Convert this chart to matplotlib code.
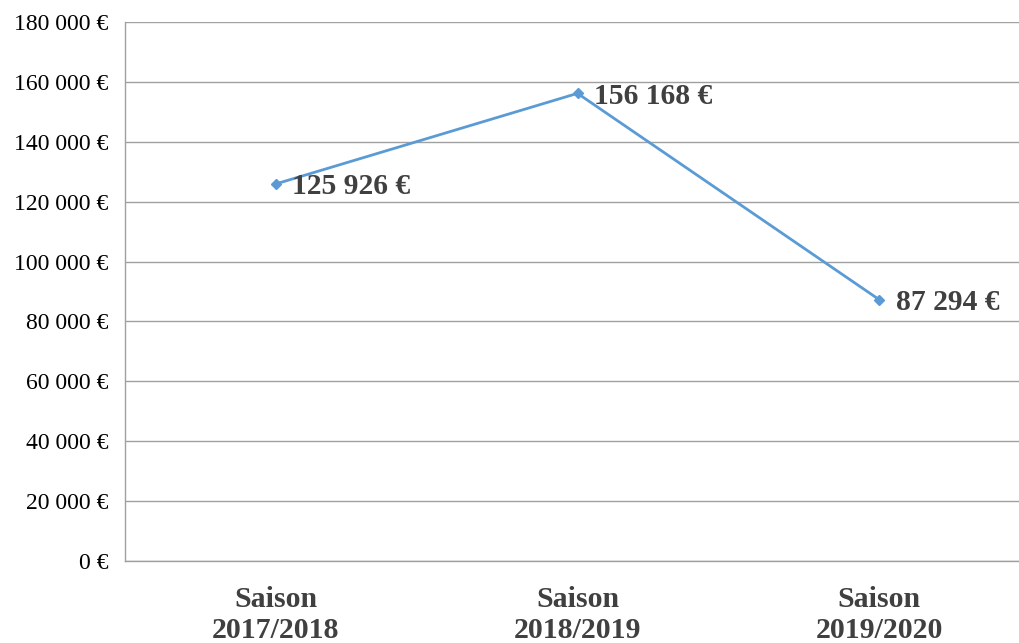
import matplotlib
matplotlib.use('Agg')
import matplotlib.pyplot as plt
from matplotlib.ticker import FuncFormatter

# data
seasons = ['Saison\n2017/2018', 'Saison\n2018/2019', 'Saison\n2019/2020']
revenue = [125926, 156168, 87294]
y_ticks = [0, 20000, 40000, 60000, 80000, 100000, 120000, 140000, 160000, 180000]

plt.rcParams['font.family'] = ['Liberation Serif', 'DejaVu Serif']


def euro(v, pos=None):
    s = '{:,.0f}'.format(v).replace(',', ' ')
    return s + ' €'


fig = plt.figure(figsize=(10.19, 6.43), dpi=100)
ax = fig.add_axes([125 / 1019, (643 - 561) / 643, (1030 - 125) / 1019, (561 - 22) / 643])

x = list(range(len(seasons)))
ax.plot(x, revenue, color='#5B9BD5', linewidth=2.0, marker='D', markersize=5,
        markerfacecolor='#5B9BD5', markeredgecolor='#5B9BD5', zorder=3, clip_on=False)

for xi, v in zip(x, revenue):
    ax.annotate(euro(v), (xi, v), xytext=(12, -2), textcoords='offset points',
                ha='left', va='center', fontsize=21.3, fontweight='bold', color='#404040')

ax.set_xlim(-0.5, 2.5)
ax.set_ylim(0, 180000)
ax.set_yticks(y_ticks)
ax.yaxis.set_major_formatter(FuncFormatter(euro))
ax.set_xticks(x)
ax.set_xticklabels(seasons, fontsize=21.5, fontweight='bold', color='#404040', linespacing=1.2)

ax.grid(axis='y', color='#a0a0a0', linewidth=1.0)
ax.axhline(0, color='#a0a0a0', linewidth=1.0, clip_on=False, zorder=1)
ax.set_axisbelow(True)
ax.tick_params(axis='y', length=0, pad=12, labelsize=17, labelcolor='black')
ax.tick_params(axis='x', length=0, pad=18)

for side in ['top', 'right', 'bottom']:
    ax.spines[side].set_visible(False)
ax.spines['left'].set_color('#a0a0a0')
ax.spines['left'].set_linewidth(1.0)

fig.savefig('out.png', dpi=100)
